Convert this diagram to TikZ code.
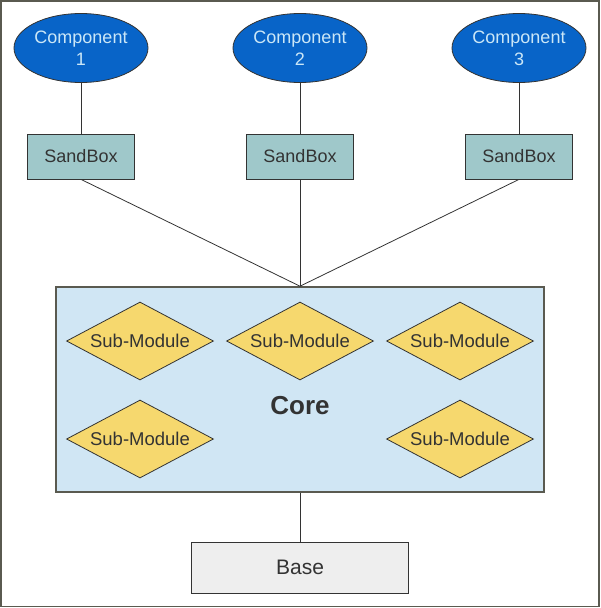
\documentclass[tikz,border=0pt]{standalone}
\usepackage{fontspec}
\setmainfont{Liberation Sans}
\usetikzlibrary{shapes.geometric}
\definecolor{compblue}{HTML}{0864C8}
\definecolor{comptext}{HTML}{CBE7F7}
\definecolor{sandfill}{HTML}{9FC8CA}
\definecolor{corefill}{HTML}{D0E6F4}
\definecolor{subfill}{HTML}{F6D86E}
\definecolor{basefill}{HTML}{EEEEEE}
\definecolor{darkline}{HTML}{333333}
\definecolor{frameline}{HTML}{5A5A50}
\tikzset{
  comp/.style={ellipse, draw=darkline, line width=0.8pt, fill=compblue, text=comptext,
    minimum width=134pt, minimum height=69pt, inner sep=0pt, align=center,
    font=\fontsize{18}{22}\selectfont},
  sandbox/.style={rectangle, draw=darkline, line width=0.8pt, fill=sandfill, text=darkline,
    minimum width=107pt, minimum height=45pt, inner sep=0pt, font=\fontsize{18}{22}\selectfont},
  corebox/.style={rectangle, draw=frameline, line width=1.6pt, fill=corefill,
    minimum width=488pt, minimum height=205pt, inner sep=0pt},
  submod/.style={diamond, draw=darkline, line width=0.8pt, fill=subfill, text=darkline,
    minimum width=147pt, minimum height=78pt, inner sep=0pt, aspect=1.88,
    font=\fontsize{18.5}{22}\selectfont},
  basebox/.style={rectangle, draw=darkline, line width=0.8pt, fill=basefill, text=darkline,
    minimum width=217pt, minimum height=51pt, inner sep=0pt, font=\fontsize{21}{25}\selectfont},
  conn/.style={draw=darkline, line width=0.8pt}
}
\begin{document}
\begin{tikzpicture}[x=1pt,y=-1pt]
\useasboundingbox (0,0) rectangle (600,608);
\draw[frameline, line width=1.5pt] (1,0.75) rectangle (599,606.5);
% core
\node[corebox] (core) at (300,389.5) {};
\node[font=\fontsize{26}{30}\selectfont\bfseries, text=darkline] (coretext) at (300,406) {Core};
\coordinate (hub) at (core.north);
% components
\node[comp] (c1) at (81,48) {Component\\1};
\node[comp] (c2) at (300,48) {Component\\2};
\node[comp] (c3) at (519,48) {Component\\3};
\node[sandbox] (s1) at (81,156.5) {SandBox};
\node[sandbox] (s2) at (300,156.5) {SandBox};
\node[sandbox] (s3) at (519,156.5) {SandBox};
\draw[conn] (c1) -- (s1);
\draw[conn] (c2) -- (s2);
\draw[conn] (c3) -- (s3);
\draw[conn] (s1.south) -- (hub);
\draw[conn] (s2.south) -- (hub);
\draw[conn] (s3.south) -- (hub);
% submodules
\node[submod] (m1) at (140,341) {Sub-Module};
\node[submod] (m2) at (300,341) {Sub-Module};
\node[submod] (m3) at (460,341) {Sub-Module};
\node[submod] (m4) at (140,439) {Sub-Module};
\node[submod] (m5) at (460,439) {Sub-Module};
% base
\node[basebox] (base) at (300,567.5) {Base};
\draw[conn] (core.south) -- (base.north);
\end{tikzpicture}
\end{document}
